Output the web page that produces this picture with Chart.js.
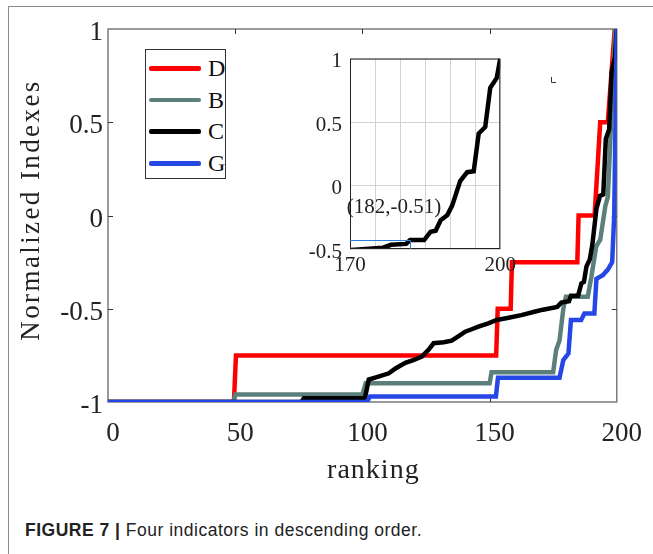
<!DOCTYPE html>
<html>
<head>
<meta charset="utf-8">
<script src="https://cdn.jsdelivr.net/npm/chart.js@4.4.1/dist/chart.umd.min.js"></script>
<style>
  html, body { margin: 0; padding: 0; background: #fff; }
  #wrap { position: relative; width: 653px; height: 554px; overflow: hidden; }
  #frame { position: absolute; left: 8px; top: 6px; width: 660px; height: 560px;
           border-top: 1px solid #8c8c8c; border-left: 1px solid #8c8c8c; }
  #mainChart { position: absolute; left: 0; top: 0; }
  #insetChart { position: absolute; left: 290px; top: 38px; }
  #legend { position: absolute; left: 145px; top: 49px; width: 81px; height: 130px;
            border: 1px solid #333; background: #fff; box-sizing: border-box; }
  .row { position: absolute; left: 0; height: 30px; width: 80px; }
  .swatch { position: absolute; left: 3px; top: 13px; width: 52px; height: 4.5px; border-radius: 2px; }
  .lbl { position: absolute; left: 62px; top: 0; font: 24px 'Liberation Serif', 'Times New Roman', serif;
         line-height: 30px; color: #111; }
  #caption { position: absolute; left: 25px; top: 520px; font: 17.5px 'Liberation Sans', Arial, sans-serif;
             letter-spacing: 0.5px; color: #222; white-space: nowrap; }
  #caption b { font-weight: bold; }
</style>
</head>
<body>
<div id="wrap">
  <div id="frame"></div>
  <canvas id="mainChart" width="653" height="500"></canvas>
  <canvas id="insetChart" width="230" height="250"></canvas>
  <div id="legend"></div>
  <div id="caption"><b>FIGURE 7 |</b> Four indicators in descending order.</div>
</div>
<script>
// series: ranking (x) and normalized index (y)
const dX = [0, 49.5, 50.3, 152.6, 153.2, 158.3, 158.8, 184.5, 185, 191.3, 193.5, 196.5, 199.2];
const dY = [-1, -1, -0.75, -0.75, -0.5, -0.5, -0.25, -0.25, 0, 0, 0.5, 0.5, 1];

const bX = [0, 49.3, 50.1, 100, 101.3, 150, 150.8, 175, 176.2, 177.5, 179, 180, 188.6, 190, 191.9, 193.5, 195.5, 196.5, 199.4];
const bY = [-1, -1, -0.96, -0.96, -0.9, -0.9, -0.84, -0.84, -0.72, -0.67, -0.5, -0.435, -0.435, -0.33, -0.167, -0.13, 0.05, 0.1, 1];

const cX = [0, 76, 77, 101, 102.5, 106, 110.4, 113, 116.9, 120, 123.4, 126, 128, 132, 135.1, 138, 140.4, 143, 145.6, 149.5, 152.8, 157, 162.5, 168, 171, 176.6, 178.2, 181.2, 182, 184.8, 186.1, 187.1, 188.1, 189.4, 190.4, 192, 193.4, 194.7, 195.7, 197, 198, 199.3, 200];
const cY = [-1, -1, -0.98, -0.98, -0.88, -0.865, -0.846, -0.82, -0.79, -0.775, -0.757, -0.72, -0.685, -0.68, -0.671, -0.645, -0.623, -0.61, -0.596, -0.578, -0.56, -0.55, -0.534, -0.515, -0.505, -0.49, -0.467, -0.46, -0.43, -0.43, -0.364, -0.356, -0.273, -0.235, -0.158, 0.035, 0.105, 0.113, 0.41, 0.461, 0.77, 0.848, 1];

const gX = [0, 101.8, 103, 152.5, 153.3, 177.5, 179, 181, 182, 186, 187.3, 191.2, 192, 194.5, 196.5, 198.2, 199, 199.5, 200];
const gY = [-1, -1, -0.97, -0.97, -0.87, -0.87, -0.775, -0.74, -0.56, -0.56, -0.525, -0.525, -0.34, -0.32, -0.29, -0.25, 0, 0.5, 1];

const seriesNames = ['D', 'B', 'C', 'G'];
const seriesColors = ['#ff0000', '#5b807b', '#000000', '#2447e6'];

const xTicksMain = [0, 50, 100, 150, 200];
const yTicksMain = [-1, -0.5, 0, 0.5, 1];
const xTicksInset = [170, 200];
const yTicksInset = [-0.5, 0, 0.5, 1];

const markX = 182;
const markY = -0.43;
const markText = '(182,-0.51)';

const SERIF = "'Liberation Serif', 'Times New Roman', serif";

function toPoints(xs, ys) {
  return xs.map((x, i) => ({ x: x, y: ys[i] }));
}

const allX = [dX, bX, cX, gX];
const allY = [dY, bY, cY, gY];

/**
 * Frame, inward ticks and axis titles for the main axes
 */
const mainFrame = {
  id: 'mainFrame',
  beforeDatasetsDraw(chart) {
    const { ctx, chartArea: a, scales } = chart;
    ctx.save();
    ctx.strokeStyle = '#7a7a7a';
    ctx.lineWidth = 1.5;
    ctx.strokeRect(a.left, a.top, a.right - a.left, a.bottom - a.top);
    ctx.strokeStyle = '#333';
    ctx.lineWidth = 1;
    xTicksMain.forEach((v) => {
      if (v <= scales.x.min || v >= scales.x.max) return;
      const px = Math.round(scales.x.getPixelForValue(v)) + 0.5;
      ctx.beginPath();
      ctx.moveTo(px, a.bottom); ctx.lineTo(px, a.bottom - 5);
      ctx.moveTo(px, a.top); ctx.lineTo(px, a.top + 5);
      ctx.stroke();
    });
    yTicksMain.forEach((v) => {
      if (v <= scales.y.min || v >= scales.y.max) return;
      const py = Math.round(scales.y.getPixelForValue(v)) + 0.5;
      ctx.beginPath();
      ctx.moveTo(a.left, py); ctx.lineTo(a.left + 5, py);
      ctx.moveTo(a.right, py); ctx.lineTo(a.right - 5, py);
      ctx.stroke();
    });
    // small corner mark left in the figure
    ctx.beginPath();
    ctx.moveTo(551.5, 77); ctx.lineTo(551.5, 82.5); ctx.lineTo(556, 82.5);
    ctx.stroke();
    ctx.restore();
  },
  afterDraw(chart) {
    const { ctx, chartArea: a } = chart;
    ctx.save();
    ctx.fillStyle = '#222';
    ctx.textAlign = 'center';
    ctx.textBaseline = 'middle';
    ctx.font = '28px ' + SERIF;
    ctx.letterSpacing = '1px';
    ctx.fillText('ranking', (a.left + a.right) / 2 + 11, 471);
    ctx.translate(32, 210);
    ctx.rotate(-Math.PI / 2);
    ctx.font = '27px ' + SERIF;
    ctx.letterSpacing = '2.4px';
    ctx.fillText('Normalized Indexes', 0, 0);
    ctx.restore();
  },
};

const mainChart = new Chart(document.getElementById('mainChart'), {
  type: 'line',
  data: {
    datasets: seriesNames.map((name, i) => ({
      label: name,
      data: toPoints(allX[i], allY[i]),
      borderColor: seriesColors[i],
      backgroundColor: seriesColors[i],
      borderWidth: 4.5,
      pointRadius: 0,
      tension: 0,
      fill: false,
      order: 4 - i,
    })),
  },
  options: {
    responsive: false,
    devicePixelRatio: 1,
    animation: false,
    layout: { padding: { left: 0, top: 29, right: 34, bottom: 0 } },
    plugins: { legend: { display: false }, tooltip: { enabled: false } },
    scales: {
      x: {
        type: 'linear',
        min: 0,
        max: 200,
        afterBuildTicks: (s) => { s.ticks = xTicksMain.map((v) => ({ value: v })); },
        afterFit: (s) => { s.height = 98; },
        grid: { display: false, drawTicks: false },
        border: { display: false },
        ticks: {
          padding: 16,
          labelOffset: 5,
          maxRotation: 0,
          color: '#222',
          font: { family: SERIF, size: 27 },
          callback: (v) => String(v),
        },
      },
      y: {
        type: 'linear',
        min: -1,
        max: 1,
        afterBuildTicks: (s) => { s.ticks = yTicksMain.map((v) => ({ value: v })); },
        afterFit: (s) => { s.width = 108; },
        grid: { display: false, drawTicks: false },
        border: { display: false },
        ticks: {
          padding: 5,
          labelOffset: 4,
          color: '#222',
          font: { family: SERIF, size: 27 },
          callback: (v) => String(v),
        },
      },
    },
  },
  plugins: [mainFrame],
});

/**
 * Inset: white plot area, frame and the data tip
 */
const insetDecor = {
  id: 'insetDecor',
  beforeDraw(chart) {
    const { ctx, chartArea: a } = chart;
    ctx.save();
    ctx.fillStyle = '#fff';
    ctx.fillRect(a.left, a.top, a.right - a.left, a.bottom - a.top);
    ctx.restore();
  },
  afterDatasetsDraw(chart) {
    const { ctx, chartArea: a, scales } = chart;
    ctx.save();
    ctx.strokeStyle = '#222';
    ctx.lineWidth = 1;
    ctx.strokeRect(a.left + 0.5, a.top + 0.5, a.right - a.left - 1, a.bottom - a.top - 1);
    const mx = scales.x.getPixelForValue(markX);
    const my = scales.y.getPixelForValue(markY);
    ctx.strokeStyle = '#2b80d6';
    ctx.beginPath();
    ctx.moveTo(a.left, Math.round(my) + 0.5);
    ctx.lineTo(Math.round(mx) + 0.5, Math.round(my) + 0.5);
    ctx.lineTo(Math.round(mx) + 0.5, a.bottom);
    ctx.stroke();
    ctx.fillStyle = '#222';
    ctx.font = '21px ' + SERIF;
    ctx.textAlign = 'center';
    ctx.textBaseline = 'middle';
    ctx.fillText(markText, mx - 16, my - 33);
    ctx.restore();
  },
};

const insetChart = new Chart(document.getElementById('insetChart'), {
  type: 'line',
  data: {
    datasets: [{
      label: 'C',
      data: toPoints(cX, cY),
      borderColor: '#000',
      borderWidth: 4.5,
      pointRadius: 0,
      tension: 0,
      fill: false,
    }],
  },
  options: {
    responsive: false,
    devicePixelRatio: 1,
    animation: false,
    layout: { padding: { left: 0, top: 17, right: 18, bottom: 0 } },
    plugins: { legend: { display: false }, tooltip: { enabled: false } },
    scales: {
      x: {
        type: 'linear',
        min: 170,
        max: 200,
        afterFit: (s) => { s.height = 39; },
        grid: { color: '#d2d2d2', drawTicks: false },
        border: { display: false },
        ticks: {
          stepSize: 5,
          autoSkip: false,
          maxRotation: 0,
          padding: 4,
          color: '#222',
          font: { family: SERIF, size: 21 },
          callback: (v) => (xTicksInset.includes(v) ? String(v) : ''),
        },
      },
      y: {
        type: 'linear',
        min: -0.5,
        max: 1,
        afterBuildTicks: (s) => { s.ticks = yTicksInset.map((v) => ({ value: v })); },
        afterFit: (s) => { s.width = 60; },
        grid: { color: '#d2d2d2', drawTicks: false },
        border: { display: false },
        ticks: {
          padding: 8,
          labelOffset: 3,
          color: '#222',
          font: { family: SERIF, size: 21 },
          callback: (v) => String(v),
        },
      },
    },
  },
  plugins: [insetDecor],
});

// legend box built from the dataset labels and colours
const legendEl = document.getElementById('legend');
mainChart.data.datasets.forEach((ds, i) => {
  const row = document.createElement('div');
  row.className = 'row';
  row.style.top = (3 + i * 31.7) + 'px';
  row.innerHTML = '<div class="swatch" style="background:' + ds.borderColor + '"></div>' +
    '<div class="lbl">' + ds.label + '</div>';
  legendEl.appendChild(row);
});
</script>
</body>
</html>
